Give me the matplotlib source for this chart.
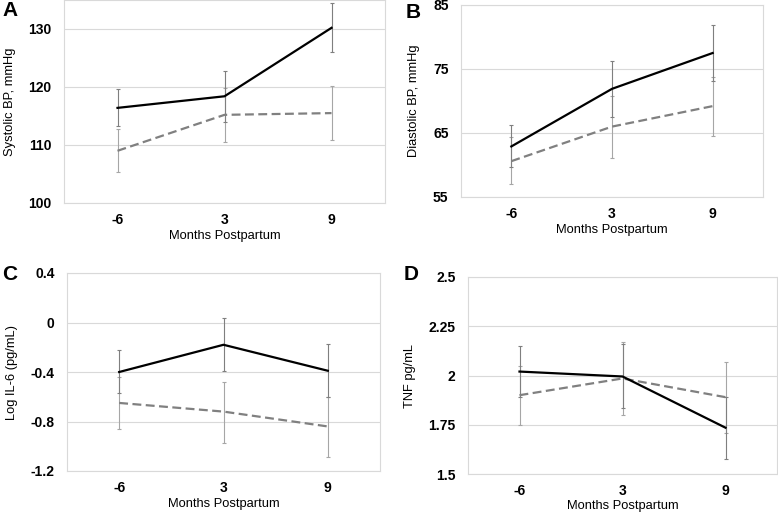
import matplotlib
matplotlib.use('Agg')
import matplotlib.pyplot as plt
import numpy as np

plt.rcParams['font.family'] = ['Liberation Sans', 'DejaVu Sans']

months = ['-6', '3', '9']

# A: systolic BP
sbp_solid = [116.4, 118.4, 130.2]
sbp_solid_lo = [113.2, 114.0, 126.0]
sbp_solid_hi = [119.7, 122.8, 134.5]
sbp_dash = [109.0, 115.2, 115.5]
sbp_dash_lo = [105.3, 110.5, 110.8]
sbp_dash_hi = [112.8, 119.9, 120.2]

# B: diastolic BP
dbp_solid = [62.9, 71.9, 77.5]
dbp_solid_lo = [59.7, 67.5, 73.2]
dbp_solid_hi = [66.2, 76.3, 81.8]
dbp_dash = [60.6, 66.0, 69.2]
dbp_dash_lo = [57.0, 61.1, 64.5]
dbp_dash_hi = [64.3, 70.8, 73.8]

# C: log IL-6
il6_solid = [-0.40, -0.18, -0.39]
il6_solid_lo = [-0.57, -0.39, -0.60]
il6_solid_hi = [-0.22, 0.04, -0.17]
il6_dash = [-0.65, -0.72, -0.84]
il6_dash_lo = [-0.86, -0.97, -1.09]
il6_dash_hi = [-0.44, -0.48, -0.60]

# D: TNF
tnf_solid = [2.02, 1.995, 1.735]
tnf_solid_lo = [1.89, 1.835, 1.575]
tnf_solid_hi = [2.15, 2.16, 1.89]
tnf_dash = [1.90, 1.985, 1.89]
tnf_dash_lo = [1.75, 1.80, 1.71]
tnf_dash_hi = [2.05, 2.17, 2.07]

panels = [
    ('A', [64, 0, 385, 203], 'Systolic BP, mmHg', (100, 135), [100, 110, 120, 130], ['100', '110', '120', '130'],
     (sbp_solid, sbp_solid_lo, sbp_solid_hi), (sbp_dash, sbp_dash_lo, sbp_dash_hi), (10, 11)),
    ('B', [461, 5, 763, 197], 'Diastolic BP, mmHg', (55, 85), [55, 65, 75, 85], ['55', '65', '75', '85'],
     (dbp_solid, dbp_solid_lo, dbp_solid_hi), (dbp_dash, dbp_dash_lo, dbp_dash_hi), (413, 12)),
    ('C', [67, 273, 380, 471], 'Log IL-6 (pg/mL)', (-1.2, 0.4), [-1.2, -0.8, -0.4, 0, 0.4], ['-1.2', '-0.8', '-0.4', '0', '0.4'],
     (il6_solid, il6_solid_lo, il6_solid_hi), (il6_dash, il6_dash_lo, il6_dash_hi), (10, 274)),
    ('D', [468, 277, 777, 474], 'TNF pg/mL', (1.5, 2.5), [1.5, 1.75, 2.0, 2.25, 2.5], ['1.5', '1.75', '2', '2.25', '2.5'],
     (tnf_solid, tnf_solid_lo, tnf_solid_hi), (tnf_dash, tnf_dash_lo, tnf_dash_hi), (411, 275)),
]

W, H = 778, 516
fig = plt.figure(figsize=(W / 100, H / 100), dpi=100)
x = np.arange(len(months))

for letter, box, ylabel, ylim, yticks, ylabels, solid, dash, lpos in panels:
    l, t, r, b = box
    ax = fig.add_axes([l / W, 1 - b / H, (r - l) / W, (b - t) / H])
    for s in ax.spines.values():
        s.set_color('#d9d9d9')
        s.set_linewidth(0.8)
    ax.set_xlim(-0.5, 2.5)
    ax.set_ylim(*ylim)
    ax.set_yticks(yticks)
    ax.set_yticklabels(ylabels, fontsize=10, fontweight='bold')
    ax.set_xticks(x)
    ax.set_xticklabels(months, fontsize=10, fontweight='bold')
    ax.tick_params(length=0, pad=9)
    ax.tick_params(axis='x', pad=7)
    ax.grid(axis='y', color='#d9d9d9', linewidth=0.8)
    ax.set_axisbelow(True)

    m, lo, hi = dash
    ax.errorbar(x, m, yerr=[np.subtract(m, lo), np.subtract(hi, m)], fmt='none',
                ecolor='#a6a6a6', elinewidth=0.8, capsize=1.5, capthick=0.8, zorder=2)
    m, lo, hi = solid
    ax.errorbar(x, m, yerr=[np.subtract(m, lo), np.subtract(hi, m)], fmt='none',
                ecolor='#7f7f7f', elinewidth=0.8, capsize=1.5, capthick=0.8, zorder=2)
    ax.plot(x, dash[0], color='#808080', linewidth=1.6, linestyle=(0, (4, 2)), zorder=3)
    ax.plot(x, solid[0], color='black', linewidth=1.6, zorder=4)

    ax.set_xlabel('Months Postpartum', fontsize=9.3, labelpad=2)
    ax.set_ylabel(ylabel, fontsize=9.3, labelpad=9)
    fig.text(lpos[0] / W, 1 - lpos[1] / H, letter, fontsize=15, fontweight='bold',
             ha='center', va='center')

fig.savefig('out.png', dpi=100)
